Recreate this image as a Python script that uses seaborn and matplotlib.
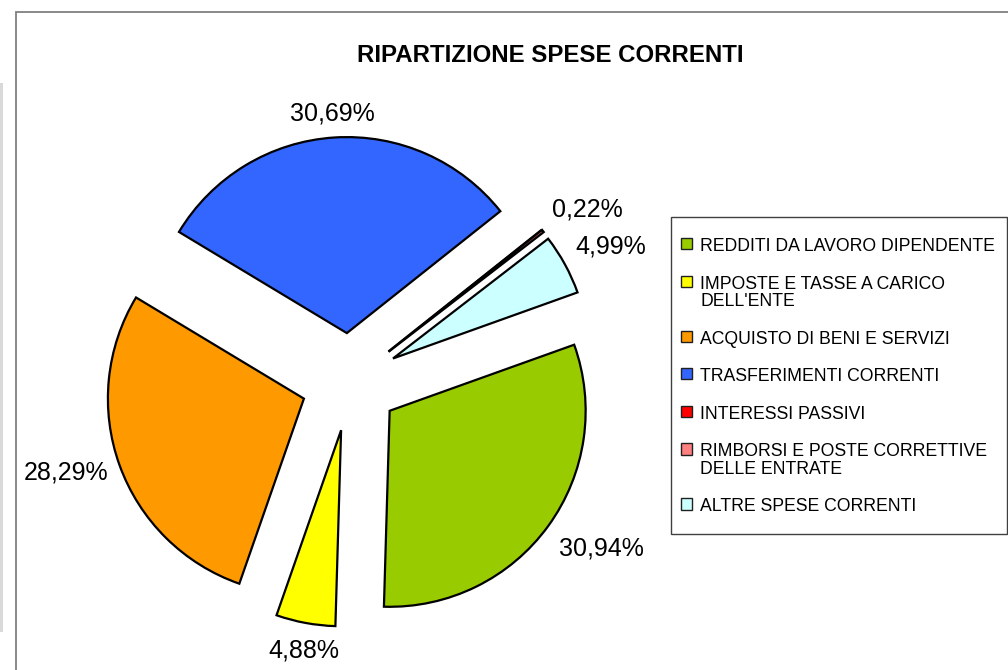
import numpy as np
import matplotlib
matplotlib.use("Agg")
import matplotlib.pyplot as plt
import seaborn as sns
from matplotlib.patches import Rectangle

# ---------------- data ----------------
categories = [
    "REDDITI DA LAVORO DIPENDENTE",
    "IMPOSTE E TASSE A CARICO DELL'ENTE",
    "ACQUISTO DI BENI E SERVIZI",
    "TRASFERIMENTI CORRENTI",
    "INTERESSI PASSIVI",
    "RIMBORSI E POSTE CORRETTIVE DELLE ENTRATE",
    "ALTRE SPESE CORRENTI",
]
legend_labels = [
    "REDDITI DA LAVORO DIPENDENTE",
    "IMPOSTE E TASSE A CARICO\nDELL'ENTE",
    "ACQUISTO DI BENI E SERVIZI",
    "TRASFERIMENTI CORRENTI",
    "INTERESSI PASSIVI",
    "RIMBORSI E POSTE CORRETTIVE\nDELLE ENTRATE",
    "ALTRE SPESE CORRENTI",
]
shares = [30.94, 4.88, 28.29, 30.69, 0.00, 0.22, 4.99]
pct_labels = ["30,94%", "4,88%", "28,29%", "30,69%", "", "0,22%", "4,99%"]
colors = ["#99CC00", "#FFFF00", "#FF9900", "#3366FF", "#FF0000", "#FF8080", "#CCFFFF"]
title = "RIPARTIZIONE SPESE CORRENTI"

# ---------------- style ----------------
sns.set_theme(style="white")
plt.rcParams["font.family"] = ["Liberation Sans", "DejaVu Sans"]

W, H = 1008, 670
fig = plt.figure(figsize=(W / 100, H / 100), dpi=100)
fig.patch.set_facecolor("white")

# spreadsheet artefact on the far left
fig.add_artist(Rectangle((0, 1 - 632 / H), 3 / W, (632 - 83) / H,
                         transform=fig.transFigure, facecolor="#d9d9d9",
                         edgecolor="none"))
# chart area frame
fig.add_artist(Rectangle((16 / W, -0.05), 1.2, 1 - 12 / H + 0.05,
                         transform=fig.transFigure, fill=False,
                         edgecolor="#808080", linewidth=1.3))

# ---------------- pie ----------------
cx, cy = 350, 382          # pie centre in pixels (from top-left)
half = 330
R = 196
EXPL = 49
ax = fig.add_axes([(cx - half) / W, (H - cy - half) / H, 2 * half / W, 2 * half / H])
start = 19.7
wedges, _ = ax.pie(shares, colors=colors, radius=R, explode=[EXPL] * len(shares),
                   startangle=start, counterclock=False,
                   wedgeprops=dict(edgecolor="black", linewidth=1.6, joinstyle="miter"))
ax.set_xlim(-half, half)
ax.set_ylim(-half, half)
ax.set_aspect("equal")
ax.axis("off")

total = sum(shares)
cum = np.cumsum([0] + shares[:-1])
label_dist = [300, 270, 297, 271, 0, 295, 295]
label_nudge = [2.8, 0.7, -2.6, 0.1, 0, -1.7, -0.9]   # degrees
for v, c, lab, d, nd in zip(shares, cum, pct_labels, label_dist, label_nudge):
    if not lab:
        continue
    ang = np.deg2rad(start - 360 * (c + v / 2) / total + nd)
    ax.text(d * np.cos(ang), d * np.sin(ang) - 9, lab, ha="center", va="baseline",
            fontsize=18, color="black")

# ---------------- title ----------------
fig.text(550 / W, 1 - 55 / H, title, ha="center", va="center",
         fontsize=17.3, fontweight="bold", color="black")

# ---------------- legend ----------------
fig.add_artist(Rectangle((671 / W, 1 - 534 / H), (1007 - 671) / W, (534 - 217) / H,
                         transform=fig.transFigure, fill=False,
                         edgecolor="#404040", linewidth=1.0))
leg = fig.legend(wedges, legend_labels, loc="upper left",
                 bbox_to_anchor=(681 / W, 1 - 238 / H), frameon=False,
                 fontsize=12.7, labelspacing=1.17, borderpad=0, borderaxespad=0,
                 handlelength=0.6, handleheight=0.6, handletextpad=0.5)
for h in leg.legend_handles:
    h.set_linewidth(1.0)
    h.set_edgecolor("#202020")
for t in leg.get_texts():
    t.set_color("black")
    t.set_linespacing(1.02)
# align each marker with the first line of its label
for col in leg._legend_handle_box.get_children():
    for item in col.get_children():
        item.align = "top"

fig.savefig("out.png", dpi=100, facecolor="white")
